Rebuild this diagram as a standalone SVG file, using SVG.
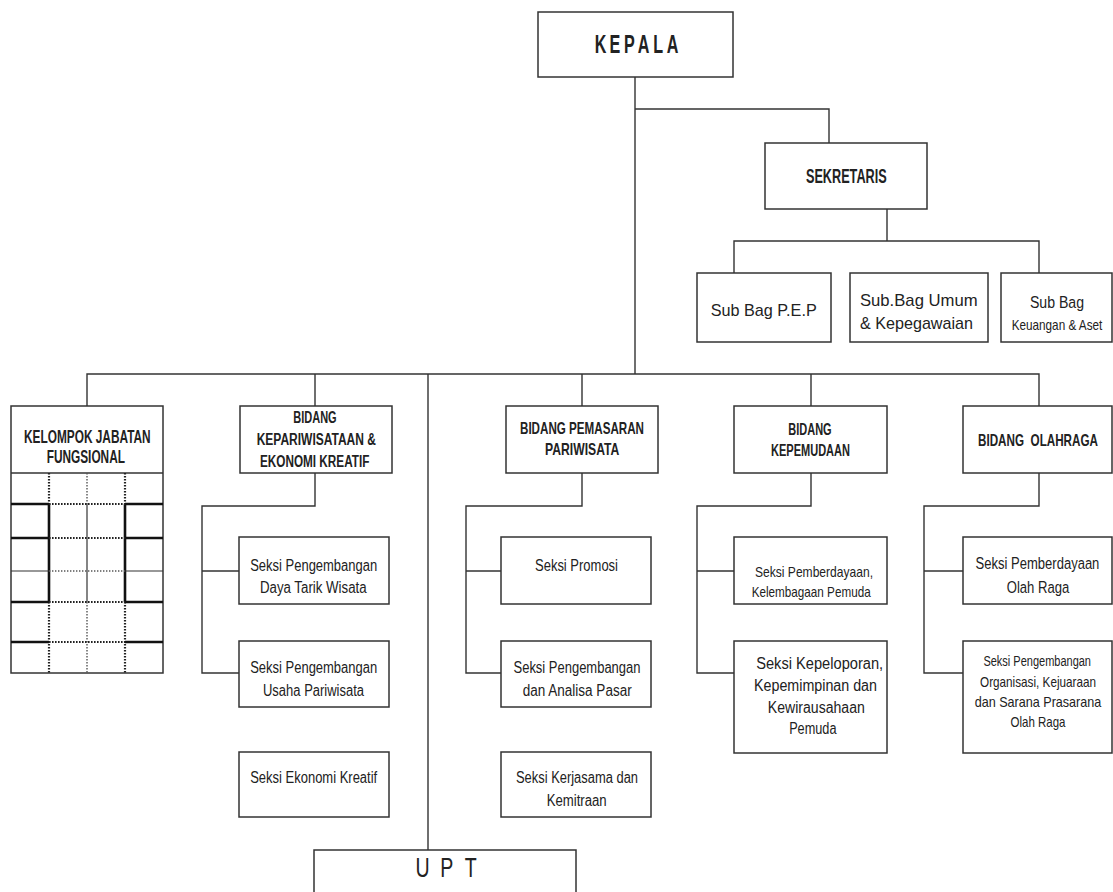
<svg xmlns="http://www.w3.org/2000/svg" width="1113" height="892" viewBox="0 0 1113 892">
<style>
.box{fill:#fff;stroke:#333;stroke-width:1.5}
.ln{fill:none;stroke:#333;stroke-width:1.4}
.t{font-family:"Liberation Sans Narrow","Liberation Sans",Arial,sans-serif;fill:#222;text-anchor:middle}
.w{font-family:"Liberation Sans",Arial,sans-serif}
.b{font-weight:bold}
.thick{stroke:#111;stroke-width:2.6;fill:none}
.thin{stroke:#333;stroke-width:1.2;fill:none}
.dot{stroke:#222;stroke-width:2.2;stroke-dasharray:1.6 1.4;fill:none}
.dotl{stroke:#555;stroke-width:1.4;stroke-dasharray:1.4 1.6;fill:none}
</style>
<rect width="1113" height="892" fill="#fff"/>
<g id="connectors">
<path class="ln" d="M635 77V374M635 109H829V143"/>
<path class="ln" d="M887 209V241M734 273V241H1039V273"/>
<path class="ln" d="M87 406V374H1039V406M315 374V406M582 374V406M811 374V406M428 374V850"/>
<path class="ln" d="M315 473V506H202V673H239M202 571H239"/>
<path class="ln" d="M582 473V506H466V673H501M466 571H501"/>
<path class="ln" d="M811 473V506H697V673H734M697 571H734"/>
<path class="ln" d="M1039 473V506H924V673H963M924 571H963"/>
</g>
<g id="kepala">
<rect class="box" x="538" y="12" width="195" height="65"/>
<text class="t b" font-size="26" transform="scale(0.62,1)" x="968.5 991.8 1015 1038.2 1061.5 1084.7" y="53">KEPALA</text>
</g>
<g id="sekretaris">
<rect class="box" x="765" y="143" width="162" height="66"/>
<text class="t b" font-size="20" x="846.3" y="182.7" textLength="80.7" lengthAdjust="spacingAndGlyphs">SEKRETARIS</text>
</g>
<g id="subbag-pep">
<rect class="box" x="697" y="273" width="134" height="69"/>
<text class="t" font-size="17" x="763.7" y="316" textLength="106" lengthAdjust="spacingAndGlyphs">Sub Bag P.E.P</text>
</g>
<g id="subbag-umum">
<rect class="box" x="850" y="273" width="138" height="69"/>
<text class="t" font-size="17" x="918.8" y="306" textLength="117.7" lengthAdjust="spacingAndGlyphs">Sub.Bag Umum</text>
<text class="t" font-size="17" x="916.5" y="329.3" textLength="113" lengthAdjust="spacingAndGlyphs">&amp; Kepegawaian</text>
</g>
<g id="subbag-keuangan">
<rect class="box" x="1001" y="273" width="111" height="69"/>
<text class="t w" font-size="17" transform="translate(1057,307.5) scale(0.83,1)">Sub Bag</text>
<text class="t w" font-size="14" transform="translate(1057,330) scale(0.84,1)">Keuangan &amp; Aset</text>
</g>
<g id="kelompok-jabatan-fungsional">
<rect class="box" x="11" y="406" width="152" height="267"/>
<path class="ln" d="M11 473H163"/>
<text class="t b" font-size="18" x="87.3" y="443.3" textLength="126.7" lengthAdjust="spacingAndGlyphs">KELOMPOK JABATAN</text>
<text class="t b" font-size="18" x="85.8" y="462.7" textLength="78.3" lengthAdjust="spacingAndGlyphs">FUNGSIONAL</text>
<path class="dot" d="M49 473V504M125 473V504M49 602V673M125 602V673"/>
<path class="dotl" d="M87 473V504M87 602V673"/>
<path class="thick" d="M49 504V602M125 504V602"/>
<path class="thin" d="M87 504V602"/>
<path class="thick" d="M11 504H49M125 504H163M11 538H49M125 538H163M11 602H49M125 602H163M11 642H49M125 642H163"/>
<path class="thin" d="M11 571H49M125 571H163"/>
<path class="dot" d="M49 504H125M49 538H125M49 602H125M49 642H125"/>
<path class="dotl" d="M49 571H125"/>
</g>
<g id="bidang-kepariwisataan">
<rect class="box" x="240" y="406" width="152" height="67"/>
<text class="t b" font-size="16" x="315" y="423.3" textLength="43.3" lengthAdjust="spacingAndGlyphs">BIDANG</text>
<text class="t b" font-size="16" x="316.3" y="445" textLength="119.3" lengthAdjust="spacingAndGlyphs">KEPARIWISATAAN &amp;</text>
<text class="t b" font-size="16" x="314.7" y="466.7" textLength="109.3" lengthAdjust="spacingAndGlyphs">EKONOMI KREATIF</text>
</g>
<g id="bidang-pemasaran">
<rect class="box" x="506" y="406" width="152" height="67"/>
<text class="t b" font-size="17" x="582" y="434" textLength="124" lengthAdjust="spacingAndGlyphs">BIDANG PEMASARAN</text>
<text class="t b" font-size="17" x="582.2" y="455" textLength="74.3" lengthAdjust="spacingAndGlyphs">PARIWISATA</text>
</g>
<g id="bidang-kepemudaan">
<rect class="box" x="734" y="406" width="153" height="67"/>
<text class="t b" font-size="16" x="810" y="435" textLength="43.3" lengthAdjust="spacingAndGlyphs">BIDANG</text>
<text class="t b" font-size="16" x="810.5" y="455.7" textLength="79" lengthAdjust="spacingAndGlyphs">KEPEMUDAAN</text>
</g>
<g id="bidang-olahraga">
<rect class="box" x="963" y="406" width="149" height="67"/>
<text class="t w b" font-size="17" transform="translate(1038,446) scale(0.687,1)" xml:space="preserve">BIDANG  OLAHRAGA</text>
</g>
<g id="seksi-daya-tarik">
<rect class="box" x="239" y="537" width="150" height="67"/>
<text class="t" font-size="16" x="313.7" y="570.7" textLength="127" lengthAdjust="spacingAndGlyphs">Seksi Pengembangan</text>
<text class="t" font-size="16" x="313.3" y="593.3" textLength="106.7" lengthAdjust="spacingAndGlyphs">Daya Tarik Wisata</text>
</g>
<g id="seksi-usaha-pariwisata">
<rect class="box" x="239" y="641" width="150" height="66"/>
<text class="t" font-size="16" x="313.7" y="673" textLength="127" lengthAdjust="spacingAndGlyphs">Seksi Pengembangan</text>
<text class="t" font-size="16" x="313.5" y="696" textLength="101" lengthAdjust="spacingAndGlyphs">Usaha Pariwisata</text>
</g>
<g id="seksi-ekonomi-kreatif">
<rect class="box" x="239" y="752" width="150" height="65"/>
<text class="t" font-size="16" x="313.7" y="782.7" textLength="127" lengthAdjust="spacingAndGlyphs">Seksi Ekonomi Kreatif</text>
</g>
<g id="seksi-promosi">
<rect class="box" x="501" y="537" width="150" height="67"/>
<text class="t" font-size="16" x="576.5" y="571" textLength="83" lengthAdjust="spacingAndGlyphs">Seksi Promosi</text>
</g>
<g id="seksi-analisa-pasar">
<rect class="box" x="501" y="641" width="150" height="66"/>
<text class="t" font-size="16" x="577" y="673" textLength="127" lengthAdjust="spacingAndGlyphs">Seksi Pengembangan</text>
<text class="t" font-size="16" x="577.2" y="696" textLength="109" lengthAdjust="spacingAndGlyphs">dan Analisa Pasar</text>
</g>
<g id="seksi-kerjasama">
<rect class="box" x="501" y="752" width="150" height="65"/>
<text class="t" font-size="16" x="577" y="782.7" textLength="122" lengthAdjust="spacingAndGlyphs">Seksi Kerjasama dan</text>
<text class="t" font-size="16" x="576.7" y="806" textLength="60" lengthAdjust="spacingAndGlyphs">Kemitraan</text>
</g>
<g id="seksi-pemberdayaan-pemuda">
<rect class="box" x="734" y="537" width="153" height="67"/>
<text class="t" font-size="15" x="814" y="577" textLength="118" lengthAdjust="spacingAndGlyphs">Seksi Pemberdayaan,</text>
<text class="t" font-size="15" x="811.2" y="596.7" textLength="119" lengthAdjust="spacingAndGlyphs">Kelembagaan Pemuda</text>
</g>
<g id="seksi-kepeloporan">
<rect class="box" x="734" y="641" width="153" height="112"/>
<text class="t" font-size="16" x="819.7" y="669" textLength="127" lengthAdjust="spacingAndGlyphs">Seksi Kepeloporan,</text>
<text class="t" font-size="16" x="815.5" y="691" textLength="123" lengthAdjust="spacingAndGlyphs">Kepemimpinan dan</text>
<text class="t" font-size="16" x="816.3" y="712.7" textLength="97" lengthAdjust="spacingAndGlyphs">Kewirausahaan</text>
<text class="t" font-size="16" x="812.8" y="734.3" textLength="47.3" lengthAdjust="spacingAndGlyphs">Pemuda</text>
</g>
<g id="seksi-pemberdayaan-olahraga">
<rect class="box" x="963" y="537" width="149" height="67"/>
<text class="t w" font-size="17" transform="translate(1037.5,569.3) scale(0.767,1)">Seksi Pemberdayaan</text>
<text class="t w" font-size="17" transform="translate(1038,592.7) scale(0.771,1)">Olah Raga</text>
</g>
<g id="seksi-pengembangan-organisasi">
<rect class="box" x="963" y="641" width="149" height="112"/>
<text class="t w" font-size="14" transform="translate(1037.2,666) scale(0.786,1)">Seksi Pengembangan</text>
<text class="t w" font-size="14" transform="translate(1038,686.7) scale(0.838,1)">Organisasi, Kejuaraan</text>
<text class="t w" font-size="14" transform="translate(1038,706.7) scale(0.9,1)">dan Sarana Prasarana</text>
<text class="t w" font-size="14" transform="translate(1038,726.7) scale(0.822,1)">Olah Raga</text>
</g>
<g id="upt">
<rect class="box" x="314" y="850" width="262" height="60"/>
<text class="t" font-size="28" transform="scale(0.7,1)" x="603.6 638.1 672.6" y="877">UPT</text>
</g>
</svg>
